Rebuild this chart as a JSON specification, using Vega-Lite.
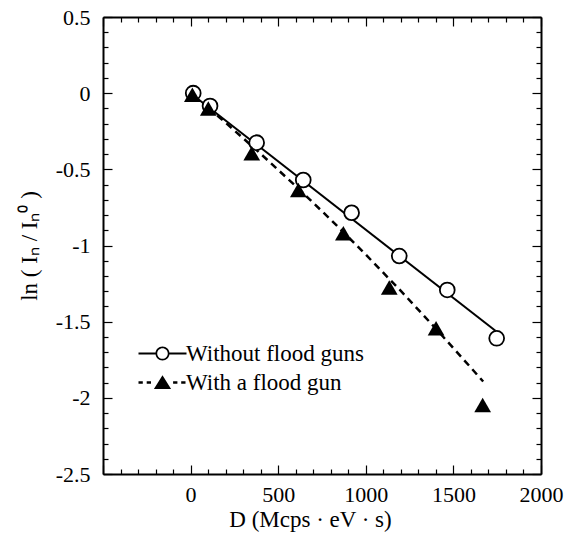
{
  "$schema": "https://vega.github.io/schema/vega-lite/v6.json",
  "width": 438,
  "height": 457,
  "autosize": "none",
  "padding": {"left": 103, "top": 17, "right": 32, "bottom": 69},
  "background": "white",
  "config": {
    "view": {"stroke": null},
    "axis": {
      "labelFont": "Liberation Serif",
      "titleFont": "Liberation Serif",
      "labelColor": "black",
      "titleColor": "black",
      "tickColor": "black",
      "domainColor": "black",
      "domainWidth": 2,
      "tickWidth": 1.2,
      "grid": false,
      "labelFlush": false,
      "labelOverlap": false,
      "titleFontWeight": "normal"
    }
  },
  "datasets": {
    "points": [
      {"series": "Without flood guns", "D": 15, "lnI": 0.0},
      {"series": "Without flood guns", "D": 111, "lnI": -0.084},
      {"series": "Without flood guns", "D": 377, "lnI": -0.325},
      {"series": "Without flood guns", "D": 643, "lnI": -0.57},
      {"series": "Without flood guns", "D": 919, "lnI": -0.785},
      {"series": "Without flood guns", "D": 1191, "lnI": -1.069},
      {"series": "Without flood guns", "D": 1465, "lnI": -1.292},
      {"series": "Without flood guns", "D": 1747, "lnI": -1.609},
      {"series": "With a flood gun", "D": 10, "lnI": -0.01},
      {"series": "With a flood gun", "D": 101, "lnI": -0.1},
      {"series": "With a flood gun", "D": 349, "lnI": -0.395},
      {"series": "With a flood gun", "D": 615, "lnI": -0.636},
      {"series": "With a flood gun", "D": 872, "lnI": -0.92},
      {"series": "With a flood gun", "D": 1134, "lnI": -1.275},
      {"series": "With a flood gun", "D": 1401, "lnI": -1.544},
      {"series": "With a flood gun", "D": 1667, "lnI": -2.047}
    ],
    "fitA": [
      {"D": 0, "lnI": 0.0},
      {"D": 1740, "lnI": -1.56}
    ],
    "fitB": [
      {"D": 100, "lnI": -0.096},
      {"D": 200, "lnI": -0.194},
      {"D": 400, "lnI": -0.398},
      {"D": 600, "lnI": -0.61},
      {"D": 800, "lnI": -0.83},
      {"D": 1000, "lnI": -1.06},
      {"D": 1200, "lnI": -1.298},
      {"D": 1400, "lnI": -1.546},
      {"D": 1600, "lnI": -1.802},
      {"D": 1670, "lnI": -1.893}
    ]
  },
  "resolve": {"axis": {"x": "independent", "y": "independent"}},
  "layer": [
    {
      "data": {"name": "fitA"},
      "mark": {"type": "line", "color": "black", "strokeWidth": 2},
      "encoding": {
        "x": {
          "field": "D", "type": "quantitative",
          "scale": {"domain": [-500, 2000], "nice": false, "zero": false},
          "axis": {
            "orient": "bottom",
            "values": [-500,-400,-300,-200,-100,0,100,200,300,400,500,600,700,800,900,1000,1100,1200,1300,1400,1500,1600,1700,1800,1900,2000],
            "tickSize": {"condition": {"test": "abs(datum.value % 500) < 0.001", "value": -9}, "value": -5},
            "labelExpr": "datum.value >= 0 && abs(datum.value % 500) < 0.001 ? '' + datum.value : ''",
            "labelPadding": 19,
            "labelFontSize": 22,
            "title": "D (Mcps · eV · s)",
            "titleFontSize": 23,
            "titleX": 207,
            "titleY": 34,
            "titleBaseline": "top"
          }
        },
        "y": {
          "field": "lnI", "type": "quantitative",
          "scale": {"domain": [-2.5, 0.5], "nice": false, "zero": false},
          "axis": {
            "orient": "left",
            "values": [-2.5,-2.4,-2.3,-2.2,-2.1,-2,-1.9,-1.8,-1.7,-1.6,-1.5,-1.4,-1.3,-1.2,-1.1,-1,-0.9,-0.8,-0.7,-0.6,-0.5,-0.4,-0.3,-0.2,-0.1,0,0.1,0.2,0.3,0.4,0.5],
            "tickSize": {"condition": {"test": "abs(datum.value*2 - round(datum.value*2)) < 0.001", "value": -9}, "value": -5},
            "labelExpr": "abs(datum.value*2 - round(datum.value*2)) < 0.001 ? '' + datum.value : ''",
            "labelPadding": 22,
            "labelFontSize": 22,
            "title": "ln ( Iₙ  /  Iₙ⁰ )",
            "titleFontSize": 23,
            "titleX": -74,
            "titleBaseline": "middle"
          }
        }
      }
    },
    {
      "data": {"name": "fitB"},
      "mark": {"type": "line", "color": "black", "strokeWidth": 2.5, "strokeDash": [7, 5]},
      "encoding": {
        "x": {
          "field": "D", "type": "quantitative",
          "scale": {"domain": [-500, 2000], "nice": false, "zero": false},
          "axis": {
            "orient": "top",
            "values": [-500,-400,-300,-200,-100,0,100,200,300,400,500,600,700,800,900,1000,1100,1200,1300,1400,1500,1600,1700,1800,1900,2000],
            "tickSize": {"condition": {"test": "abs(datum.value % 500) < 0.001", "value": -9}, "value": -5},
            "labels": false,
            "title": null
          }
        },
        "y": {
          "field": "lnI", "type": "quantitative",
          "scale": {"domain": [-2.5, 0.5], "nice": false, "zero": false},
          "axis": {
            "orient": "right",
            "values": [-2.5,-2.4,-2.3,-2.2,-2.1,-2,-1.9,-1.8,-1.7,-1.6,-1.5,-1.4,-1.3,-1.2,-1.1,-1,-0.9,-0.8,-0.7,-0.6,-0.5,-0.4,-0.3,-0.2,-0.1,0,0.1,0.2,0.3,0.4,0.5],
            "tickSize": {"condition": {"test": "abs(datum.value*2 - round(datum.value*2)) < 0.001", "value": -9}, "value": -5},
            "labels": false,
            "title": null
          }
        }
      }
    },
    {
      "data": {"name": "points"},
      "transform": [{"filter": "datum.series === 'Without flood guns'"}],
      "mark": {"type": "point", "shape": "circle", "filled": true, "fill": "white", "stroke": "black", "strokeWidth": 1.8, "size": 220, "opacity": 1},
      "encoding": {
        "x": {"field": "D", "type": "quantitative", "axis": null},
        "y": {"field": "lnI", "type": "quantitative", "axis": null}
      }
    },
    {
      "data": {"name": "points"},
      "transform": [{"filter": "datum.series === 'With a flood gun'"}],
      "mark": {"type": "point", "shape": "triangle-up", "filled": true, "color": "black", "size": 280, "opacity": 1},
      "encoding": {
        "x": {"field": "D", "type": "quantitative", "axis": null},
        "y": {"field": "lnI", "type": "quantitative", "axis": null}
      }
    },
    {
      "data": {"name": "points"},
      "mark": {"type": "point", "filled": true, "color": "black", "opacity": 0, "strokeWidth": 0, "size": 400},
      "encoding": {
        "x": {"field": "D", "type": "quantitative", "axis": null},
        "y": {"field": "lnI", "type": "quantitative", "axis": null},
        "shape": {
          "field": "series", "type": "nominal",
          "scale": {
            "domain": ["Without flood guns", "With a flood gun"],
            "range": [
              "M-2.4,-0.11H-0.7V0.11H-2.4Z M0.7,-0.11H2.4V0.11H0.7Z M-0.7,0A0.7,0.7 0 1,1 0.7,0A0.7,0.7 0 1,1 -0.7,0Z M-0.53,0A0.53,0.53 0 1,0 0.53,0A0.53,0.53 0 1,0 -0.53,0Z",
              "M-2.4,-0.12H-1.97V0.12H-2.4Z M-1.58,-0.12H-1.15V0.12H-1.58Z M0,-0.72L0.86,0.65L-0.86,0.65Z M1.06,-0.12H1.49V0.12H1.06Z M1.87,-0.12H2.3V0.12H1.87Z"
            ]
          },
          "legend": {
            "orient": "none",
            "legendX": 48,
            "legendY": 325,
            "title": null,
            "padding": 0,
            "symbolSize": 400,
            "symbolStrokeWidth": 0,
            "symbolFillColor": "black",
            "symbolOpacity": 1,
            "labelFont": "Liberation Serif",
            "labelFontSize": 23,
            "labelColor": "black",
            "labelOffset": 12,
            "labelLimit": 0,
            "rowPadding": 5
          }
        }
      }
    }
  ]
}
